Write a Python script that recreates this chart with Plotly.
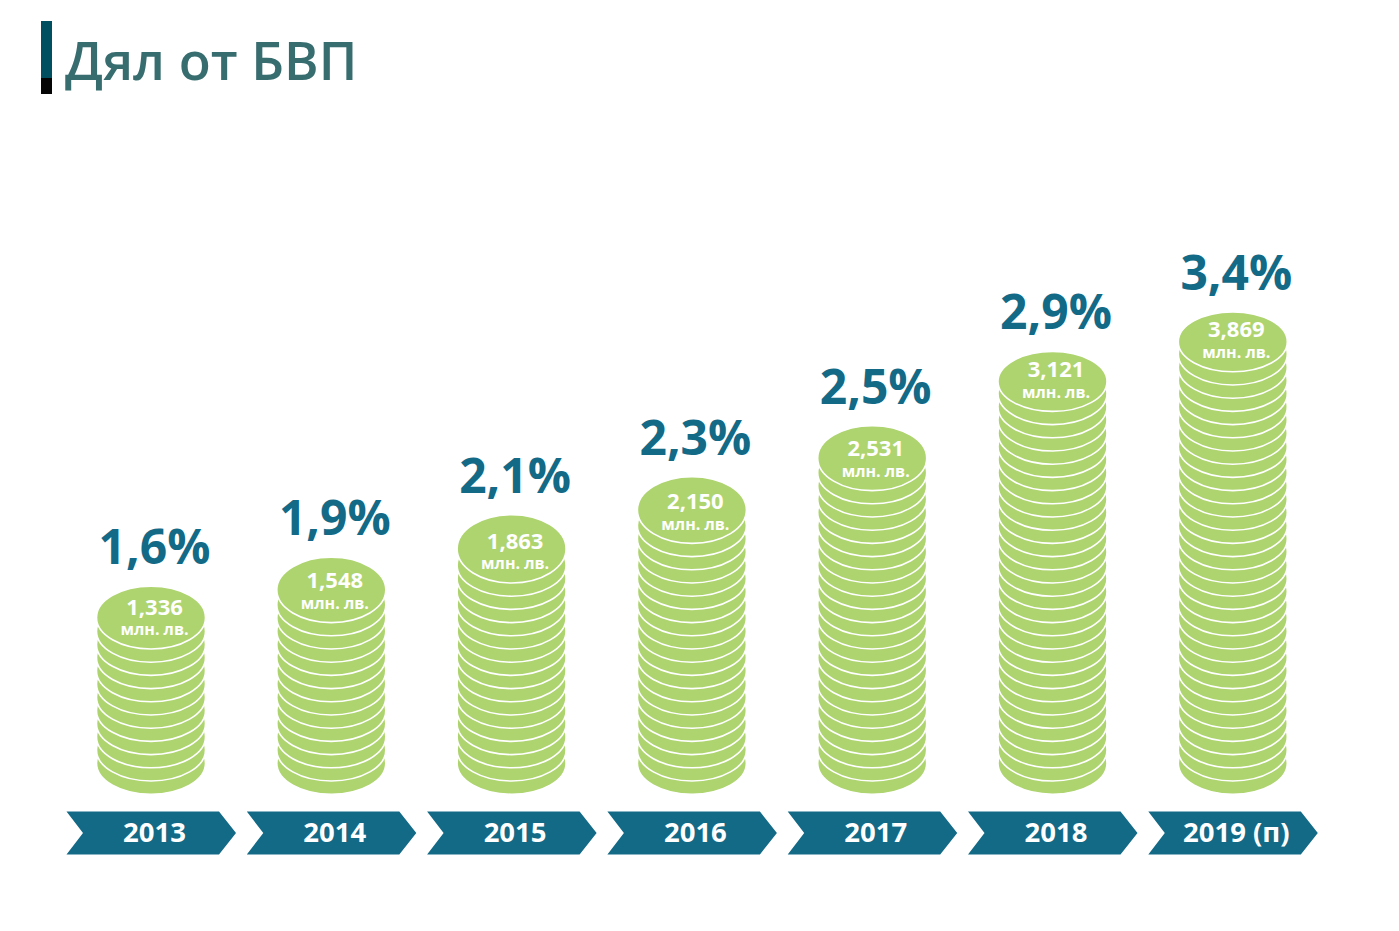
import plotly.graph_objects as go

# ---- data ----
years = ["2013", "2014", "2015", "2016", "2017", "2018", "2019 (п)"]
gdp_share = ["1,6%", "1,9%", "2,1%", "2,3%", "2,5%", "2,9%", "3,4%"]
amounts = ["1,336", "1,548", "1,863", "2,150", "2,531", "3,121", "3,869"]
unit_label = "млн. лв."
coin_counts = [12, 14, 17, 20, 24, 30, 33]
top_coin_half = [2.38, 2.48, 2.59, 2.53, 2.46, 2.27, 2.27]
title_text = "Дял от БВП"

# ---- styling ----
W, H = 1399, 931
COIN = "#aed46f"
TEAL = "#126a87"
TITLE = "#386d70"
FONT = "Open Sans"
PX_X = 180.3     # pixels per category
PX_Y = 13.2      # pixels per coin level
ORIGIN_X = 151.0
ORIGIN_Y = 763.2
COIN_HALF_W = 54.5 / PX_X
COIN_HALF_H = 31 / PX_Y

shapes = []
xs = list(range(len(years)))

# coins
top_levels = []
arc_levels = []
for x, n, bt in zip(xs, coin_counts, top_coin_half):
    for k in range(n):
        half = bt if k == n - 1 else COIN_HALF_H
        centre = k - COIN_HALF_H + half
        shapes.append(dict(type="circle", xref="x", yref="y", layer="below",
                           x0=x - COIN_HALF_W, x1=x + COIN_HALF_W,
                           y0=centre - half, y1=centre + half,
                           fillcolor=COIN, line=dict(color="white", width=1.6)))
    top_levels.append(n - 1 - COIN_HALF_H + 2 * bt)
    arc_levels.append(n - 1 - COIN_HALF_H)

# year chevrons
CHEV_Y = (ORIGIN_Y - 833) / PX_Y
CHEV_H = 21.5 / PX_Y
LEFT, NOTCH, SHOULDER, TIP = -84.5 / PX_X, -68 / PX_X, 68 / PX_X, 85 / PX_X
for x in xs:
    path = (f"M{x+LEFT},{CHEV_Y+CHEV_H} L{x+SHOULDER},{CHEV_Y+CHEV_H} L{x+TIP},{CHEV_Y} "
            f"L{x+SHOULDER},{CHEV_Y-CHEV_H} L{x+LEFT},{CHEV_Y-CHEV_H} L{x+NOTCH},{CHEV_Y} Z")
    shapes.append(dict(type="path", xref="x", yref="y", layer="below", path=path,
                       fillcolor=TEAL, line=dict(width=0)))

# title bar
shapes.append(dict(type="rect", xref="paper", yref="paper", layer="below",
                   x0=41 / W, x1=52 / W, y0=1 - 78 / H, y1=1 - 21 / H,
                   fillcolor="#004f60", line=dict(width=0)))
shapes.append(dict(type="rect", xref="paper", yref="paper", layer="below",
                   x0=41 / W, x1=52 / W, y0=1 - 94 / H, y1=1 - 78 / H,
                   fillcolor="#050505", line=dict(width=0)))

def text_trace(x, y, text, size, color, weight):
    return go.Scatter(x=x, y=y, text=text, mode="text", textposition="middle center",
                      textfont=dict(family=FONT, size=size, color=color, weight=weight),
                      hoverinfo="skip", showlegend=False, cliponaxis=False)

shift = 3.5 / PX_X
coin_labels = [f'<span style="font-size:22px">{a}</span><br>{unit_label}' for a in amounts]
fig = go.Figure()
fig.add_trace(text_trace([x + shift for x in xs], [t + 34 / PX_Y for t in top_levels],
                         gdp_share, 48, TEAL, 700))
fig.add_trace(text_trace([x + shift for x in xs], [a + 28 / PX_Y for a in arc_levels],
                         coin_labels, 16, "white", 700))
fig.add_trace(text_trace([x + shift for x in xs], [CHEV_Y - 2 / PX_Y] * len(xs),
                         years, 27.5, "white", 700))

fig.update_layout(
    width=W, height=H, margin=dict(l=0, r=0, t=0, b=0),
    paper_bgcolor="white", plot_bgcolor="white", showlegend=False,
    hovermode=False, shapes=shapes,
    title=dict(text=title_text, x=65 / W, xanchor="left", xref="paper",
               y=1 - 61.5 / H, yanchor="middle", yref="container",
               font=dict(family=FONT, size=52.5, color=TITLE, weight=600)),
    xaxis=dict(visible=False, range=[-ORIGIN_X / PX_X, (W - ORIGIN_X) / PX_X], fixedrange=True),
    yaxis=dict(visible=False, range=[(ORIGIN_Y - H) / PX_Y, ORIGIN_Y / PX_Y], fixedrange=True),
)
fig.write_html("out.html", config=dict(displayModeBar=False),
               post_script="document.body.style.margin='0';")
